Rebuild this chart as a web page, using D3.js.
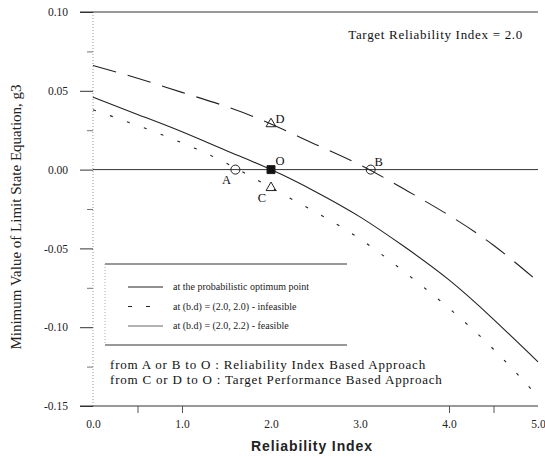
<!DOCTYPE html>
<html>
<head>
<meta charset="utf-8">
<script src="https://cdn.jsdelivr.net/npm/d3@7"></script>
<style>
  body { margin: 0; background: #fff; }
  svg { display: block; font-family: "Liberation Serif", "DejaVu Serif", serif; }
  .tick text { font-family: "Liberation Serif", serif; font-size: 11.5px; fill: #222; }
</style>
</head>
<body>
<svg id="chart"></svg>
<script>
const width = 545;
const height = 457;

// Reliability index (x) and minimum g3 values for each curve
const beta = [0, 0.5, 1.0, 1.5, 2.0, 2.5, 3.0, 3.5, 4.0, 4.5, 5.0];
const optimum = [0.046, 0.035, 0.024, 0.012, 0.0, -0.014, -0.030, -0.049, -0.070, -0.095, -0.122];
const infeasible = [0.038, 0.028, 0.017, 0.004, -0.0115, -0.027, -0.044, -0.065, -0.088, -0.114, -0.144];
const feasible = [0.066, 0.058, 0.049, 0.040, 0.029, 0.016, 0.003, -0.0125, -0.029, -0.048, -0.071];

// marked points
const pointNames = ["A", "B", "O", "C", "D"];
const pointBeta = [1.6, 3.12, 2.0, 2.0, 2.0];
const pointG = [0, 0, 0, -0.0115, 0.029];
const pointShape = ["circle", "circle", "square", "triangle", "triangle"];

const xTicks = [0, 1, 2, 3, 4, 5];
const xMarks = [0.5, 1.0, 4.0, 4.5];
const yTicks = [0.10, 0.05, 0.00, -0.05, -0.10, -0.15];
const yMinor = [0.075, 0.025, -0.025, -0.075, -0.125];

const legendLabels = [
    "at the probabilistic optimum point",
    "at (b.d) = (2.0, 2.0) - infeasible",
    "at (b.d) = (2.0, 2.2) - feasible"
];
const notes = [
    "from A or B to O : Reliability Index Based Approach",
    "from C or D to O : Target Performance Based Approach"
];

const svg = d3.select("#chart")
    .attr("width", width)
    .attr("height", height);

const x = d3.scaleLinear().domain([0, 5]).range([93, 538]);
const y = d3.scaleLinear().domain([-0.15, 0.10]).range([406, 12]);

// left axis (dotted grey)
svg.append("line")
    .attr("x1", x(0)).attr("x2", x(0))
    .attr("y1", y(0.10)).attr("y2", y(-0.15))
    .attr("stroke", "#999")
    .attr("stroke-dasharray", "1,2");

// y ticks
const yAxis = svg.append("g")
    .attr("transform", `translate(${x(0)},0)`)
    .call(d3.axisLeft(y).tickValues(yTicks).tickSize(13).tickPadding(12)
        .tickFormat(d => d.toFixed(2)));
yAxis.select(".domain").remove();
yAxis.selectAll(".tick line").attr("stroke", "#333");

const yAxisMinor = svg.append("g")
    .attr("transform", `translate(${x(0)},0)`)
    .call(d3.axisLeft(y).tickValues(yMinor).tickSize(6).tickFormat(""));
yAxisMinor.select(".domain").remove();
yAxisMinor.selectAll(".tick line").attr("stroke", "#777");

// top, bottom and zero lines
[0.10, -0.15].forEach(v => {
    svg.append("line")
        .attr("x1", x(0) - 13).attr("x2", x(5))
        .attr("y1", y(v)).attr("y2", y(v))
        .attr("stroke", "#333").attr("stroke-width", 1);
});
svg.append("line")
    .attr("x1", x(0)).attr("x2", x(5))
    .attr("y1", y(0)).attr("y2", y(0))
    .attr("stroke", "#333").attr("stroke-width", 1);

// x axis labels
const xAxis = svg.append("g")
    .attr("transform", `translate(0,${y(-0.15)})`)
    .call(d3.axisBottom(x).tickValues(xTicks).tickSize(0).tickPadding(14)
        .tickFormat(d => d.toFixed(1)));
xAxis.select(".domain").remove();

const xAxisMarks = svg.append("g")
    .attr("transform", `translate(0,${y(-0.15)})`)
    .call(d3.axisBottom(x).tickValues(xMarks).tickSize(7).tickFormat(""));
xAxisMarks.select(".domain").remove();
xAxisMarks.selectAll(".tick line").attr("stroke", "#555");

// curves
const series = [
    { values: optimum, dash: null },
    { values: infeasible, dash: "3,15" },
    { values: feasible, dash: "24,12" }
];

const line = d3.line()
    .x(d => x(d[0]))
    .y(d => y(d[1]))
    .curve(d3.curveNatural);

svg.selectAll(".curve")
    .data(series)
    .enter()
    .append("path")
    .attr("class", "curve")
    .attr("d", s => line(beta.map((b, i) => [b, s.values[i]])))
    .attr("fill", "none")
    .attr("stroke", "#222")
    .attr("stroke-width", 1.1)
    .attr("stroke-dasharray", s => s.dash);

// points
const points = pointNames.map((name, i) => ({
    name, b: pointBeta[i], g: pointG[i], shape: pointShape[i]
}));
const labelOffset = { A: [-9, 14], B: [8, -4], O: [9, -5], C: [-9, 14], D: [9, -1] };

const pg = svg.selectAll(".pt")
    .data(points)
    .enter()
    .append("g")
    .attr("class", "pt")
    .attr("transform", d => `translate(${x(d.b)},${y(d.g)})`);

pg.append("path")
    .attr("d", d => {
        if (d.shape === "circle") return d3.symbol(d3.symbolCircle, 64)();
        if (d.shape === "square") return d3.symbol(d3.symbolSquare, 64)();
        return d3.symbol(d3.symbolTriangle, 42)();
    })
    .attr("fill", d => d.shape === "square" ? "#111" : "none")
    .attr("stroke", "#222")
    .attr("stroke-width", 1);

pg.append("text")
    .attr("x", d => labelOffset[d.name][0])
    .attr("y", d => labelOffset[d.name][1])
    .attr("text-anchor", "middle")
    .attr("font-size", 12.5)
    .attr("fill", "#111")
    .text(d => d.name);

// legend box
const lg = svg.append("g");
lg.append("line").attr("x1", 105).attr("x2", 347).attr("y1", 264).attr("y2", 264)
    .attr("stroke", "#333");
lg.append("line").attr("x1", 105).attr("x2", 347).attr("y1", 345).attr("y2", 345)
    .attr("stroke", "#333");
lg.append("line").attr("x1", 105).attr("x2", 105).attr("y1", 264).attr("y2", 345)
    .attr("stroke", "#aaa").attr("stroke-dasharray", "1,2");

const legendDash = [null, "4,14", null];
const legendColor = ["#222", "#222", "#666"];
legendLabels.forEach((t, i) => {
    const ly = 287 + i * 19.5;
    lg.append("line")
        .attr("x1", 128).attr("x2", 163)
        .attr("y1", ly).attr("y2", ly)
        .attr("stroke", legendColor[i])
        .attr("stroke-dasharray", legendDash[i]);
    lg.append("text")
        .attr("x", 173).attr("y", ly + 3)
        .attr("font-size", 10)
        .attr("fill", "#222")
        .text(t);
});

// notes
notes.forEach((t, i) => {
    svg.append("text")
        .attr("x", 110).attr("y", 369 + i * 15)
        .attr("font-size", 13)
        .attr("letter-spacing", 0.8)
        .attr("fill", "#111")
        .text(t);
});

// title
svg.append("text")
    .attr("x", 523).attr("y", 39)
    .attr("text-anchor", "end")
    .attr("font-size", 13)
    .attr("letter-spacing", 0.7)
    .attr("fill", "#111")
    .text("Target Reliability Index = 2.0");

// axis titles
svg.append("text")
    .attr("x", 312).attr("y", 451)
    .attr("text-anchor", "middle")
    .attr("font-family", "'Liberation Sans', Arial, sans-serif")
    .attr("font-size", 14)
    .attr("font-weight", "bold")
    .attr("letter-spacing", 0.9)
    .attr("fill", "#222")
    .text("Reliability Index");

svg.append("text")
    .attr("transform", "translate(21,217) rotate(-90)")
    .attr("text-anchor", "middle")
    .attr("font-size", 15)
    .attr("fill", "#222")
    .text("Minimum Value of Limit State Equation, g3");
</script>
</body>
</html>
